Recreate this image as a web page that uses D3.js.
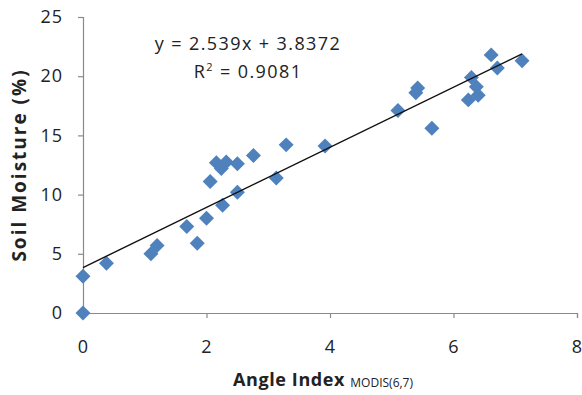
<!DOCTYPE html>
<html>
<head>
<meta charset="utf-8">
<script src="https://cdn.jsdelivr.net/npm/d3@7"></script>
<style>
  body { margin: 0; background: #fff; }
  text { font-family: "Open Sans", "Liberation Sans", sans-serif; fill: #222; }
</style>
</head>
<body>
<div id="chart"></div>
<script>
// data
var angleIndex = [0, 0, 0.38, 1.1, 1.2, 1.85, 1.68, 2.0, 2.06, 2.16, 2.32, 2.24, 2.5, 2.76, 3.29, 3.92,
                  3.13, 2.5, 2.26, 5.1, 5.65, 5.42, 5.39, 6.61, 6.71, 7.11, 6.29, 6.37, 6.4, 6.24]
var soilMoisture = [0, 3.1, 4.2, 5.0, 5.7, 5.9, 7.3, 8.0, 11.1, 12.7, 12.75, 12.2, 12.6, 13.3, 14.2, 14.1,
                    11.4, 10.2, 9.1, 17.1, 15.6, 19.0, 18.6, 21.8, 20.7, 21.3, 19.9, 19.1, 18.4, 18.0]
var xTicks = [0, 2, 4, 6, 8]
var yTicks = [0, 5, 10, 15, 20, 25]
var slope = 2.539, intercept = 3.8372
var eqLabel = "y = 2.539x + 3.8372"
var r2Value = "0.9081"

var width = 582, height = 395
var margin = { left: 83, right: 5, top: 17, bottom: 82 }
var innerWidth = width - margin.left - margin.right
var innerHeight = height - margin.top - margin.bottom

var svg = d3.select('#chart').append('svg')
    .attr('width', width)
    .attr('height', height)

var g = svg.append('g')
    .attr('transform', 'translate(' + margin.left + ',' + margin.top + ')')

var xScale = d3.scaleLinear().domain([0, 8]).range([0, innerWidth])
var yScale = d3.scaleLinear().domain([0, 25]).range([innerHeight, 0])

g.append('g')
    .attr('transform', 'translate(0,' + innerHeight + ')')
    .call(d3.axisBottom(xScale).tickValues(xTicks).tickSize(5).tickPadding(22))
g.append('g')
    .call(d3.axisLeft(yScale).tickValues(yTicks).tickSize(5).tickPadding(15))

svg.selectAll('.domain, .tick line').attr('stroke', '#8a8a8a').attr('stroke-width', 1.2)
svg.selectAll('.tick text')
    .style('font-size', '18px')
    .style('font-family', '"Open Sans", sans-serif')
    .style('letter-spacing', '1px')
    .attr('fill', '#222')

// points
var pts = angleIndex.map(function (x, i) { return [x, soilMoisture[i]] })
var diamond = d3.symbol().type(d3.symbolSquare).size(112)
g.selectAll('.pt')
    .data(pts)
    .enter()
    .append('path')
    .attr('class', 'pt')
    .attr('d', diamond)
    .attr('transform', function (d) { return 'translate(' + xScale(d[0]) + ',' + yScale(d[1]) + ') rotate(45)' })
    .attr('fill', '#4f81bd')

// trend line over the data range
var x0 = d3.min(angleIndex), x1 = d3.max(angleIndex)
g.append('line')
    .attr('x1', xScale(x0)).attr('y1', yScale(slope * x0 + intercept))
    .attr('x2', xScale(x1)).attr('y2', yScale(slope * x1 + intercept))
    .attr('stroke', '#111')
    .attr('stroke-width', 1.4)

// equation
svg.append('text')
    .attr('x', 248).attr('y', 50)
    .attr('text-anchor', 'middle')
    .style('font-size', '18px')
    .style('letter-spacing', '1.4px')
    .text(eqLabel)
var r2 = svg.append('text')
    .attr('x', 248).attr('y', 78)
    .attr('text-anchor', 'middle')
    .style('font-size', '18px')
    .style('letter-spacing', '1.4px')
r2.append('tspan').text('R')
r2.append('tspan').attr('dy', -7).style('font-size', '11px').text('2')
r2.append('tspan').attr('dy', 7).text(' = ' + r2Value)

// axis titles
var xt = svg.append('text')
    .attr('x', 233).attr('y', 386)
    .style('font-size', '18px')
xt.append('tspan').style('font-weight', 'bold').style('letter-spacing', '0.6px').text('Angle Index ')
xt.append('tspan').style('font-size', '12px').attr('dy', 1).text('MODIS(6,7)')

svg.append('text')
    .attr('transform', 'translate(26,' + (margin.top + innerHeight / 2) + ') rotate(-90)')
    .attr('text-anchor', 'middle')
    .style('font-size', '19px')
    .style('font-weight', 'bold')
    .style('letter-spacing', '2px')
    .text('Soil Moisture (%)')
</script>
</body>
</html>
